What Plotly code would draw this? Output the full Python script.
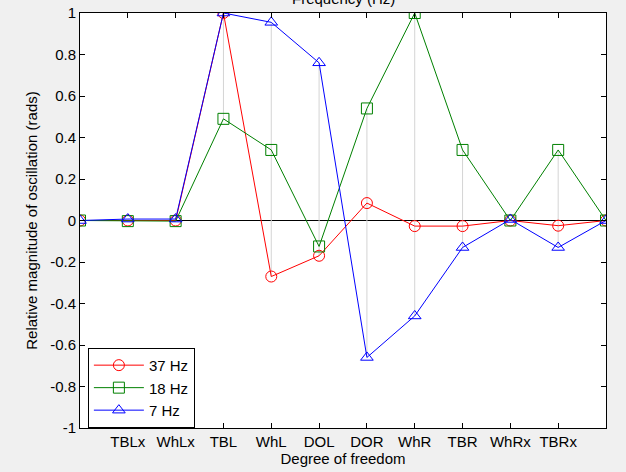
import plotly.graph_objects as go

categories = ["", "TBLx", "WhLx", "TBL", "WhL", "DOL", "DOR", "WhR", "TBR", "WhRx", "TBRx", ""]
x_pos = list(range(1, 13))

hz37 = [0.0, 0.0, 0.0, 1.0, -0.27, -0.17, 0.084, -0.027, -0.027, 0.0, -0.025, 0.0]
hz18 = [0.0, -0.003, -0.003, 0.49, 0.34, -0.125, 0.54, 1.0, 0.34, 0.0, 0.34, 0.0]
hz7 = [0.0, 0.007, 0.007, 1.0, 0.955, 0.76, -0.66, -0.46, -0.13, 0.005, -0.13, 0.0]

series = [("37 Hz", hz37, "red", "circle-open"),
          ("18 Hz", hz18, "#008000", "square-open"),
          ("7 Hz", hz7, "blue", "triangle-up-open")]

fig = go.Figure()

# gray stems spanning min to max at each degree of freedom
sx, sy = [], []
for i, x in enumerate(x_pos):
    vals = [hz37[i], hz18[i], hz7[i]]
    sx += [x, x, None]
    sy += [min(vals), max(vals), None]
fig.add_trace(go.Scatter(x=sx, y=sy, mode="lines", line=dict(color="#d4d4d4", width=1),
                         showlegend=False, hoverinfo="skip"))

for name, vals, color, sym in series:
    fig.add_trace(go.Scatter(x=x_pos, y=vals, mode="lines+markers", name=name,
                             line=dict(color=color, width=1),
                             marker=dict(symbol=sym, size=11, color=color,
                                         line=dict(color=color, width=1))))

fam = "Liberation Sans, Arial, sans-serif"
font = dict(family=fam, size=15, color="black")

fig.update_layout(
    width=626, height=472,
    margin=dict(l=80, r=20, t=13, b=44),
    paper_bgcolor="#f0f0f0", plot_bgcolor="white",
    font=font,
    showlegend=True,
    legend=dict(x=0.015, y=0.193, xanchor="left", yanchor="top",
                bgcolor="white", bordercolor="black", borderwidth=1,
                font=dict(family=fam, size=15),
                itemwidth=50, tracegroupgap=0),
    xaxis=dict(range=[1, 12], tickmode="array", tickvals=x_pos, ticktext=categories,
               ticks="inside", ticklen=5, tickcolor="black", showgrid=False,
               showline=True, linecolor="black", linewidth=1, mirror="ticks",
               zeroline=False, automargin=False,
               tickfont=dict(family=fam, size=15),
               title=dict(text="Degree of freedom", standoff=4, font=dict(family=fam, size=15))),
    yaxis=dict(range=[-1, 1], tickmode="array",
               tickvals=[-1, -0.8, -0.6, -0.4, -0.2, 0, 0.2, 0.4, 0.6, 0.8, 1],
               ticktext=["-1", "-0.8", "-0.6", "-0.4", "-0.2", "0", "0.2", "0.4", "0.6", "0.8", "1"],
               ticks="inside", ticklen=5, tickcolor="black", showgrid=False,
               showline=True, linecolor="black", linewidth=1, mirror="ticks",
               zeroline=True, zerolinecolor="black", zerolinewidth=1, automargin=False,
               tickfont=dict(family=fam, size=15),
               title=dict(text="Relative magnitude of oscillation (rads)", standoff=8,
                          font=dict(family=fam, size=15))),
    annotations=[dict(text="Frequency (Hz)", xref="paper", yref="paper", x=0.5, y=1.0,
                      yshift=15, xanchor="center", yanchor="middle", showarrow=False,
                      font=dict(family=fam, size=15))],
)

fig.write_html("out.html")
